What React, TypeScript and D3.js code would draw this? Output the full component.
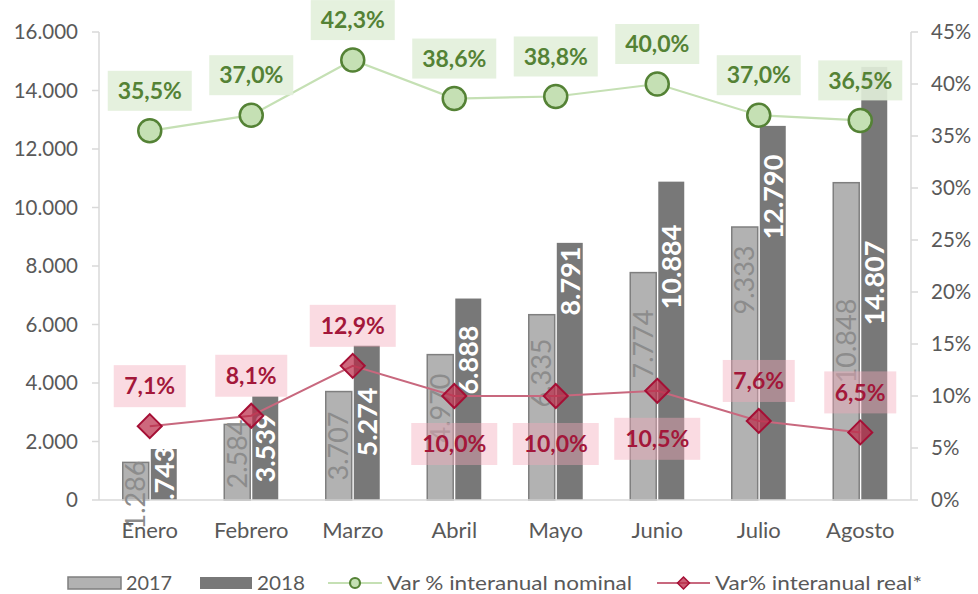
import * as d3 from "d3";

// data
const months = ["Enero", "Febrero", "Marzo", "Abril", "Mayo", "Junio", "Julio", "Agosto"];
const values2017 = [1286, 2584, 3707, 4970, 6335, 7774, 9333, 10848];
const values2018 = [1743, 3539, 5274, 6888, 8791, 10884, 12790, 14807];
const varNominal = [35.5, 37.0, 42.3, 38.6, 38.8, 40.0, 37.0, 36.5];
const varReal = [7.1, 8.1, 12.9, 10.0, 10.0, 10.5, 7.6, 6.5];
const leftTicks = [0, 2000, 4000, 6000, 8000, 10000, 12000, 14000, 16000];
const rightTicks = [0, 5, 10, 15, 20, 25, 30, 35, 40, 45];

// where the bar labels sit (in left-axis units), as placed in the original
const labelAt2017 = [171, 1573, 1846, 3145, 4342, 5333, 7521, 5436];
const labelAt2018 = [650, 1778, 2667, 4786, 7487, 7966, 10359, 7419];
// real-variation labels below the marker for these months
const realBelow = [false, false, false, true, true, true, false, false];

const W = 978, H = 594;
const left = 99, right = 911, top = 32, bottom = 500;
const font = "Lato, 'Open Sans', sans-serif";
const axisGrey = "#595959";
const lineGrey = "#d9d9d9";

const fmtNum = (v: number) => d3.format(",")(v).replace(/,/g, ".");
const fmtPct = (v: number) => v.toFixed(1).replace(".", ",") + "%";

export default function App() {
  const x = d3.scaleBand<string>().domain(months).range([left, right]);
  const bw = x.bandwidth();
  const sub = d3.scaleBand<string>().domain(["2017", "2018"]).range([bw / 2 - 27, bw / 2 + 27]).paddingInner(0.074);
  const y = d3.scaleLinear().domain([0, 16000]).range([bottom, top]);
  const yr = d3.scaleLinear().domain([0, 45]).range([bottom, top]);
  const cx = (m: string) => (x(m) as number) + bw / 2;

  const nomPath = d3.line<number>().x((_, i) => cx(months[i])).y((d) => yr(d))(varNominal) as string;
  const realPath = d3.line<number>().x((_, i) => cx(months[i])).y((d) => yr(d))(varReal) as string;

  const diamond = (px: number, py: number, s: number) =>
    `M${px},${py - s}L${px + s},${py}L${px},${py + s}L${px - s},${py}Z`;

  const legendY = 583;

  return (
    <svg width={W} height={H} style={{ position: "absolute", left: 0, top: 0, background: "#fff" }} fontFamily={font}>
      {/* axes */}
      <line x1={left} x2={left} y1={top} y2={bottom} stroke={lineGrey} strokeWidth={1.5} />
      <line x1={right} x2={right} y1={top} y2={bottom} stroke={lineGrey} strokeWidth={1.5} />
      {leftTicks.map((t) => (
        <g key={"l" + t}>
          <line x1={left - 7} x2={left} y1={y(t)} y2={y(t)} stroke={lineGrey} strokeWidth={1.5} />
          <text x={78} y={y(t)} dy="0.35em" textAnchor="end" fontSize={20.5} fill={axisGrey}>
            {fmtNum(t)}
          </text>
        </g>
      ))}
      {rightTicks.map((t) => (
        <g key={"r" + t}>
          <line x1={right} x2={right + 7} y1={yr(t)} y2={yr(t)} stroke={lineGrey} strokeWidth={1.5} />
          <text x={931} y={yr(t)} dy="0.35em" textAnchor="start" fontSize={20.5} fill={axisGrey}>
            {t + "%"}
          </text>
        </g>
      ))}

      {/* bars */}
      {months.map((m, i) => (
        <g key={"b" + m}>
          <rect
            x={(x(m) as number) + (sub("2017") as number)}
            y={y(values2017[i])}
            width={sub.bandwidth()}
            height={bottom - y(values2017[i])}
            fill="#b2b2b2"
            stroke="#7f7f7f"
            strokeWidth={1.5}
          />
          <rect
            x={(x(m) as number) + (sub("2018") as number)}
            y={y(values2018[i])}
            width={sub.bandwidth()}
            height={bottom - y(values2018[i])}
            fill="#787878"
          />
        </g>
      ))}
      <line x1={left} x2={right} y1={bottom} y2={bottom} stroke={lineGrey} strokeWidth={1.5} />

      {/* bar labels */}
      {months.map((m, i) => {
        const x17 = (x(m) as number) + (sub("2017") as number) + sub.bandwidth() / 2;
        const x18 = (x(m) as number) + (sub("2018") as number) + sub.bandwidth() / 2;
        return (
          <g key={"bl" + m}>
            <text
              transform={`translate(${x17},${y(labelAt2017[i])}) rotate(-90)`}
              textAnchor="middle"
              dy="0.36em"
              fontSize={27}
              fill="#8c8c8c"
            >
              {fmtNum(values2017[i])}
            </text>
            <text
              transform={`translate(${x18},${y(labelAt2018[i])}) rotate(-90)`}
              textAnchor="middle"
              dy="0.36em"
              fontSize={27}
              fontWeight="bold"
              fill="#ffffff"
            >
              {fmtNum(values2018[i])}
            </text>
          </g>
        );
      })}

      {/* nominal line */}
      <path d={nomPath} fill="none" stroke="#c5e0b4" strokeWidth={2.2} />
      {varNominal.map((v, i) => (
        <circle key={"c" + i} cx={cx(months[i])} cy={yr(v)} r={11.5} fill="#c5e0b4" stroke="#548235" strokeWidth={2.5} />
      ))}

      {/* real line */}
      <path d={realPath} fill="none" stroke="#c8687e" strokeWidth={2} />
      {varReal.map((v, i) => (
        <path key={"d" + i} d={diamond(cx(months[i]), yr(v), 12)} fill="rgba(185,40,70,0.7)" stroke="#a50f35" strokeWidth={2} />
      ))}

      {/* line labels */}
      {varNominal.map((v, i) => {
        const px = cx(months[i]);
        const py = yr(v) - 40;
        return (
          <g key={"nl" + i}>
            <rect x={px - 42} y={py - 20} width={84} height={40} fill="rgba(226,239,218,0.9)" />
            <text x={px} y={py} dy="0.36em" textAnchor="middle" fontSize={23} fontWeight="bold" fill="#548235">
              {fmtPct(v)}
            </text>
          </g>
        );
      })}
      {varReal.map((v, i) => {
        const px = cx(months[i]);
        const py = yr(v) + (realBelow[i] ? 48 : -40);
        const w = v >= 10 ? 86 : 72;
        return (
          <g key={"rl" + i}>
            <rect x={px - w / 2} y={py - 21} width={w} height={42} fill="rgba(244,170,186,0.42)" />
            <text x={px} y={py} dy="0.36em" textAnchor="middle" fontSize={23} fontWeight="bold" fill="#a3173a">
              {fmtPct(v)}
            </text>
          </g>
        );
      })}

      {/* category labels */}
      {months.map((m) => (
        <text key={"x" + m} x={cx(m)} y={538} textAnchor="middle" fontSize={22} fill={axisGrey}>
          {m}
        </text>
      ))}

      {/* legend */}
      <g fontSize={20} fill={axisGrey}>
        <rect x={68} y={legendY - 6} width={53} height={12} fill="#b2b2b2" stroke="#7f7f7f" strokeWidth={1.5} />
        <text x={126} y={legendY} dy="0.35em" textLength={46} lengthAdjust="spacingAndGlyphs">2017</text>
        <rect x={200} y={legendY - 6} width={52} height={12} fill="#787878" />
        <text x={257} y={legendY} dy="0.35em" textLength={48} lengthAdjust="spacingAndGlyphs">2018</text>
        <line x1={328} x2={382} y1={legendY} y2={legendY} stroke="#c5e0b4" strokeWidth={2.2} />
        <circle cx={355} cy={legendY} r={5} fill="#c5e0b4" stroke="#548235" strokeWidth={2.2} />
        <text x={387} y={legendY} dy="0.35em" textLength={245} lengthAdjust="spacingAndGlyphs">Var % interanual nominal</text>
        <line x1={657} x2={710} y1={legendY} y2={legendY} stroke="#c8687e" strokeWidth={2} />
        <path d={diamond(683.5, legendY, 6)} fill="rgba(185,40,70,0.75)" stroke="#a50f35" strokeWidth={1.5} />
        <text x={715} y={legendY} dy="0.35em" textLength={207} lengthAdjust="spacingAndGlyphs">Var% interanual real*</text>
      </g>
    </svg>
  );
}
